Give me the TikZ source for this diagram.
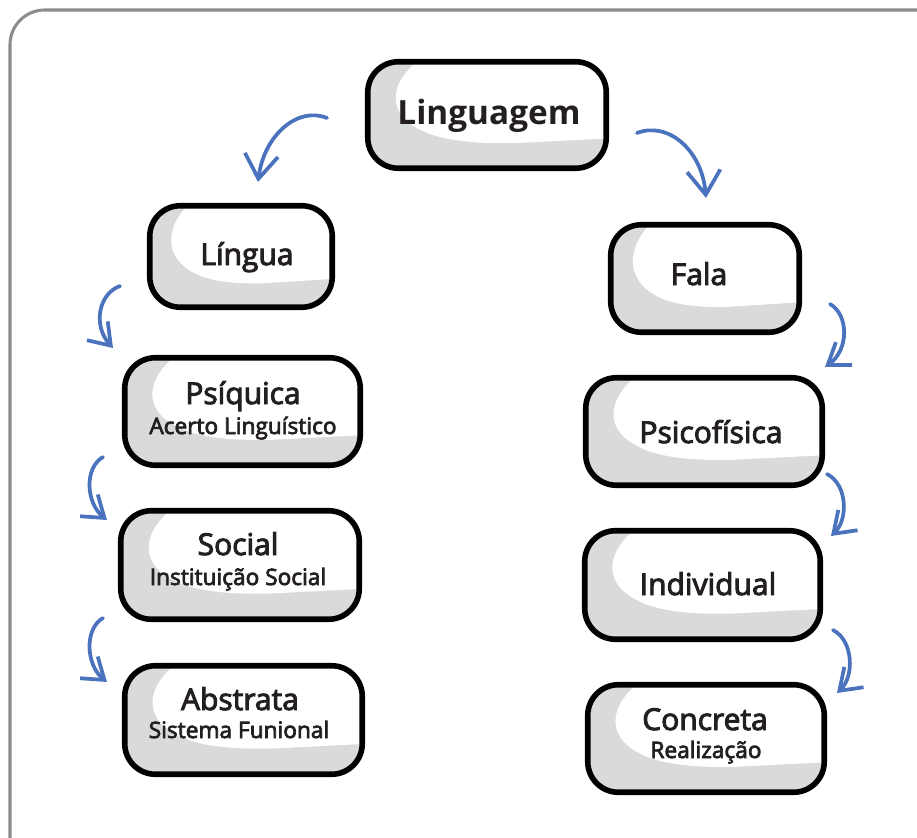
\documentclass[tikz,border=0pt]{standalone}
\usepackage{fontspec}
\setmainfont{Open Sans}
\newfontfamily\semib{Open Sans}[FakeBold=3.2]
\usetikzlibrary{arrows.meta,fit}
\definecolor{boxgray}{HTML}{D9DBDA}
\definecolor{arrowblue}{HTML}{4A72BD}
\definecolor{txt}{HTML}{231F20}
\definecolor{framegray}{HTML}{8C8C8C}
\newcommand\cardr{23pt}
\newcommand\cardbox[5]{%
  \coordinate (#1-nw) at (#2,#3);
  \coordinate (#1-se) at (#4,#5);
  \node[inner sep=0pt, fit=(#1-nw)(#1-se)] (#1) {};
  \fill[boxgray, rounded corners=\cardr] (#1.north west) rectangle (#1.south east);
  \begin{scope}
    \clip[rounded corners=\cardr] (#1.north west) rectangle (#1.south east);
    \fill[white] ({#2+0.23*(#4-#2)},{#3-5})
      .. controls ({#2+0.09*(#4-#2)},{#3+0.18*(#5-#3)}) and ({#2+0.06*(#4-#2)},{#3+0.50*(#5-#3)})
      .. ({#2+0.25*(#4-#2)},{#3+0.67*(#5-#3)})
      .. controls ({#2+0.35*(#4-#2)},{#3+0.76*(#5-#3)}) and ({#2+0.50*(#4-#2)},{#3+0.77*(#5-#3)})
      .. ({#2+0.62*(#4-#2)},{#3+0.765*(#5-#3)})
      -- ({#4+5},{#3+0.72*(#5-#3)}) -- ({#4+5},{#3-5}) -- cycle;
  \end{scope}
  \draw[cardline] (#1.north west) rectangle (#1.south east);
}
\begin{document}
\begin{tikzpicture}[x=0.75pt,y=-0.75pt,
  cardline/.style={draw=black, line width=4.2pt, rounded corners=\cardr},
  maintext/.style={anchor=base, text=txt, font=\semib\fontsize{22.5}{26}\selectfont, inner sep=0pt},
  subtext/.style={anchor=base, text=txt, font=\semib\fontsize{17}{20}\selectfont, inner sep=0pt},
  toptext/.style={anchor=base, text=txt, font=\bfseries\fontsize{25}{29}\selectfont, inner sep=0pt},
  bigarrow/.style={draw=arrowblue, line width=2.8pt, line cap=round, -{Straight Barb[length=18pt,width=25pt]}},
  smallarrow/.style={draw=arrowblue, line width=2.8pt, line cap=round, -{Straight Barb[length=15pt,width=21pt]}}
]
\useasboundingbox (0,0) rectangle (917,838);
\draw[framegray, line width=2.3pt, rounded corners=26pt] (10,840) |- (919,10);

\cardbox{linguagem}{368}{62}{606}{168}
\cardbox{lingua}{150}{206}{332}{307}
\cardbox{fala}{611}{225}{799}{332}
\cardbox{psiquica}{125}{358}{360}{465}
\cardbox{psicofisica}{586}{378}{822}{485}
\cardbox{social}{121}{511}{359}{619}
\cardbox{individual}{585}{531}{820}{639}
\cardbox{abstrata}{125}{666}{362}{774}
\cardbox{concreta}{588}{685}{824}{792}

\node[toptext] (t-linguagem) at (489,125) {Linguagem};
\node[maintext] (t-lingua) at (247,265) {Língua};
\node[maintext] (t-fala) at (699,285) {Fala};
\node[maintext] (t-psiquica) at (243,404) {Psíquica};
\node[subtext] (s-psiquica) at (243,434) {Acerto Linguístico};
\node[maintext] (t-psicofisica) at (711,443) {Psicofísica};
\node[maintext] (t-social) at (238,555) {Social};
\node[subtext] (s-social) at (238,585) {Instituição Social};
\node[maintext] (t-individual) at (708,595) {Individual};
\node[maintext] (t-abstrata) at (240,710) {Abstrata};
\node[subtext] (s-abstrata) at (239,738) {Sistema Funional};
\node[maintext] (t-concreta) at (705,730) {Concreta};
\node[subtext] (s-concreta) at (706,758) {Realização};

\coordinate (a1s) at (327,118); \coordinate (a1e) at (258,182);
\coordinate (a2s) at (637,133); \coordinate (a2e) at (706,198);
\coordinate (a3s) at (120,286); \coordinate (a3e) at (113,348);
\coordinate (a4s) at (103,457); \coordinate (a4e) at (107,520);
\coordinate (a5s) at (103,618); \coordinate (a5e) at (107,682);
\coordinate (a6s) at (830,304); \coordinate (a6e) at (825,367);
\coordinate (a7s) at (827,474); \coordinate (a7e) at (831,536);
\coordinate (a8s) at (833,630); \coordinate (a8e) at (837,693);

\draw[bigarrow] (a1s) .. controls (298,106) and (264,135) .. (a1e);
\draw[bigarrow] (a2s) .. controls (668,121) and (702,150) .. (a2e);
\draw[smallarrow] (a3s) .. controls (98,294) and (93,326) .. (a3e);
\draw[smallarrow] (a4s) .. controls (84,468) and (86,503) .. (a4e);
\draw[smallarrow] (a5s) .. controls (84,629) and (86,665) .. (a5e);
\draw[smallarrow] (a6s) .. controls (849,315) and (849,350) .. (a6e);
\draw[smallarrow] (a7s) .. controls (848,485) and (848,520) .. (a7e);
\draw[smallarrow] (a8s) .. controls (854,641) and (854,677) .. (a8e);
\end{tikzpicture}
\end{document}
